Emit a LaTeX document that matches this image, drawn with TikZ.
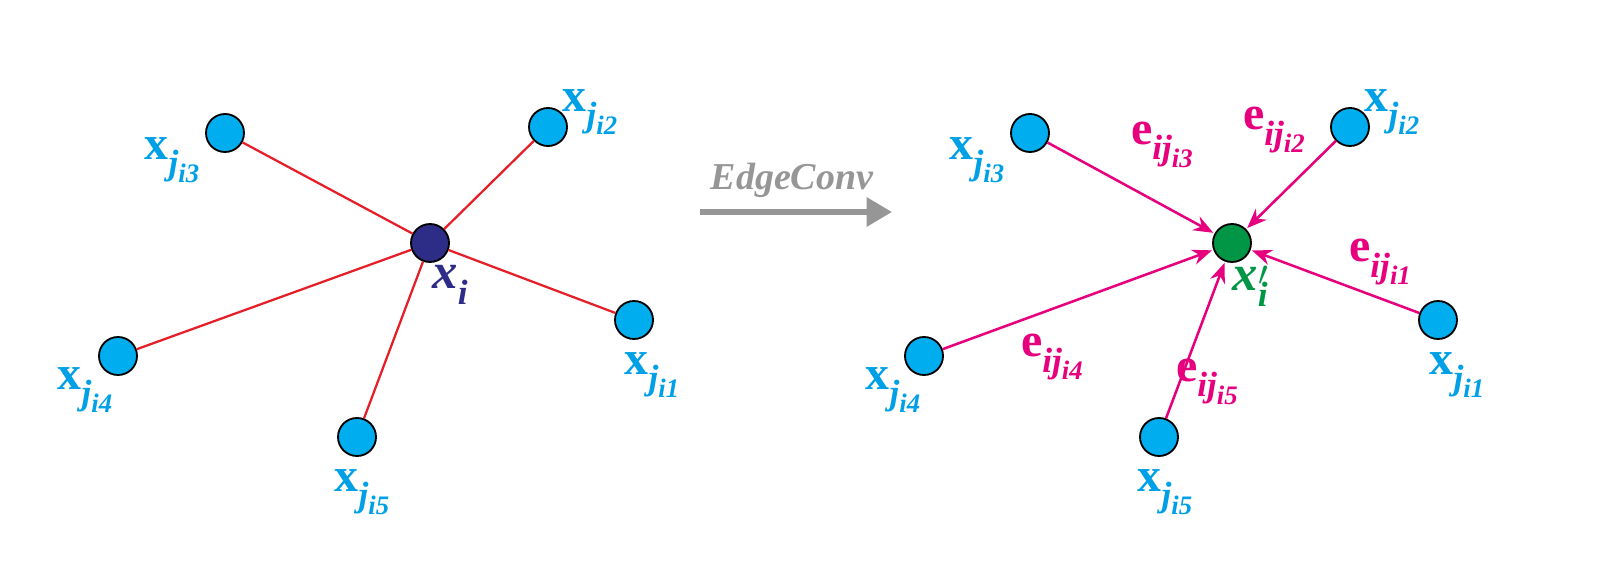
\documentclass[tikz,border=0pt]{standalone}
\usepackage{fontspec}
\setmainfont{Liberation Serif}
\usetikzlibrary{arrows.meta}
\definecolor{nodecyan}{RGB}{0,174,239}
\definecolor{labcyan}{RGB}{0,160,230}
\definecolor{edgered}{RGB}{230,30,40}
\definecolor{mag}{RGB}{230,0,126}
\definecolor{grn}{RGB}{0,150,70}
\definecolor{navy}{RGB}{45,45,135}
\definecolor{arrgray}{RGB}{150,150,150}
\newcommand{\subA}[1]{\raisebox{-0.32em}{\fontsize{25}{27}\selectfont\bfseries\itshape #1}}
\newcommand{\subB}[1]{\raisebox{-0.22em}{\fontsize{19}{21}\selectfont\bfseries\itshape #1}}
\newcommand{\xj}[1]{\textbf{x}\subA{j\subB{i#1}}}
\newcommand{\ej}[1]{\textbf{e}\subA{ij\subB{i#1}}}
\begin{document}
\begin{tikzpicture}[x=0.025cm,y=-0.025cm,
  pt/.style={circle,draw=black,line width=1.3pt,fill=nodecyan,minimum size=0.95cm,inner sep=0pt},
  lab/.style={text=labcyan,font=\fontsize{34}{36}\selectfont},
  elab/.style={text=mag,font=\fontsize{34}{36}\selectfont},
  red/.style={draw=edgered,line width=1.6pt},
  mg/.style={draw=mag,line width=1.8pt,-{Stealth[length=14pt,width=11pt]},shorten >=1pt}]
\useasboundingbox (0,0) rectangle (1600,570);
% left
\node[pt,fill=navy] (c) at (430,243) {};
\node[pt] (a3) at (225,133) {};
\node[pt] (a2) at (548,127) {};
\node[pt] (a1) at (634,320) {};
\node[pt] (a4) at (118,356) {};
\node[pt] (a5) at (357,437) {};
\foreach \n in {a1,a2,a3,a4,a5} \draw[red] (c) -- (\n);
\node[lab] (l3) at (172,160) {\xj{3}};
\node[lab] (l2) at (590,112) {\xj{2}};
\node[lab] (l1) at (652,375) {\xj{1}};
\node[lab] (l4) at (85,390) {\xj{4}};
\node[lab] (l5) at (362,492) {\xj{5}};
\node[text=navy,font=\fontsize{36}{38}\selectfont\bfseries\itshape] (li) at (450,285) {x\subA{i}};
% arrow
\coordinate (s) at (700,212);
\coordinate (t) at (892,212);
\draw[draw=arrgray,line width=4pt,-{Triangle[length=18pt,width=20pt]}] (s) -- (t);
\node[text=arrgray,font=\fontsize{27}{29}\selectfont\bfseries\itshape] (ec) at (792,180) {EdgeConv};
% right
\node[pt,fill=grn] (d) at (1232,243) {};
\node[pt] (b3) at (1030,133) {};
\node[pt] (b2) at (1350,127) {};
\node[pt] (b1) at (1438,320) {};
\node[pt] (b4) at (924,356) {};
\node[pt] (b5) at (1159,437) {};
\foreach \n in {b1,b2,b3,b4,b5} \draw[mg] (\n) -- (d);
\node[lab] (m3) at (977,160) {\xj{3}};
\node[lab] (m2) at (1392,112) {\xj{2}};
\node[lab] (m1) at (1457,375) {\xj{1}};
\node[lab] (m4) at (893,390) {\xj{4}};
\node[lab] (m5) at (1165,492) {\xj{5}};
\node[text=grn,font=\fontsize{36}{38}\selectfont\bfseries\itshape] (lj) at (1250,286) {x\rlap{\kern0.02em\raisebox{-0.15em}{$'$}}\subA{i}};
\node[elab] (e3) at (1162,145) {\ej{3}};
\node[elab] (e2) at (1274,130) {\ej{2}};
\node[elab] (e1) at (1380,262) {\ej{1}};
\node[elab] (e4) at (1052,357) {\ej{4}};
\node[elab] (e5) at (1207,382) {\ej{5}};
\end{tikzpicture}
\end{document}
